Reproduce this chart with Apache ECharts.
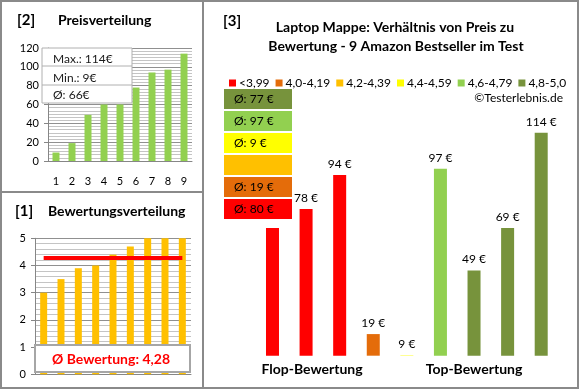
<!DOCTYPE html>
<html><head><meta charset="utf-8">
<script src="https://cdn.jsdelivr.net/npm/echarts@6/dist/echarts.min.js"></script>
<style>html,body{margin:0;padding:0;background:#fff}#c{width:580px;height:390px}</style>
</head><body><div id="c"></div>
<script>
// ---- data ----
const priceCats = ['1','2','3','4','5','6','7','8','9'];
const priceDist = [9, 19, 49, 60, 60, 78, 94, 97, 114];
const ratingDist = [3.0, 3.5, 3.9, 4.0, 4.4, 4.7, 5.0, 5.0, 5.0];
const ratingAvg = 4.28;
const statTexts = ['Max.: 114€', 'Min.: 9€', 'Ø: 66€'];
const groupNames = ['<3,99', '4,0-4,19', '4,2-4,39', '4,4-4,59', '4,6-4,79', '4,8-5,0'];
const groupColors = ['#FF0000', '#E46C0A', '#FFC000', '#FFFF00', '#92D050', '#77933C'];
const barPrices = [69, 78, 94, 19, 9, 97, 49, 69, 114];
const barGroups = [0, 0, 0, 1, 3, 4, 5, 5, 5];
const productCats = ['p1','p2','p3','p4','p5','p6','p7','p8','p9'];

const FONT = 'Lato, "Open Sans", sans-serif';
const chart = echarts.init(document.getElementById('c'));

// group series for right chart (stacked so each bar sits in its own slot)
const groupSeries = groupNames.map((name, g) => ({
  name: name, type: 'bar', xAxisIndex: 2, yAxisIndex: 2, stack: 'all',
  barWidth: 13, barMinHeight: 1,
  itemStyle: { color: groupColors[g] },
  label: { show: true, position: 'top', distance: 5, fontSize: 12, color: '#000', fontFamily: FONT,
           formatter: p => p.dataIndex === 0 ? '' : p.value + ' €' },
  data: barPrices.map((v, i) => barGroups[i] === g ? v : null)
}));

// averages per group for the Ø boxes
const groupAvg = groupNames.map((n, g) => {
  const vals = barPrices.filter((v, i) => barGroups[i] === g);
  return vals.length ? Math.round(vals.reduce((a, b) => a + b, 0) / vals.length) : null;
});

const graphics = [];
// frames
const frame = '#8a8a8a';
graphics.push({ type: 'rect', shape: { x: 1, y: 1, width: 577, height: 387 }, style: { fill: null, stroke: frame, lineWidth: 2 }, z: 50 });
graphics.push({ type: 'line', shape: { x1: 203, y1: 1, x2: 203, y2: 388 }, style: { stroke: frame, lineWidth: 2 }, z: 50 });
graphics.push({ type: 'line', shape: { x1: 1, y1: 192, x2: 203, y2: 192 }, style: { stroke: frame, lineWidth: 2 }, z: 50 });
// titles
const bold = (t, x, y, size, align) => ({ type: 'text', x: x, y: y, z: 60,
  style: { text: t, font: 'bold ' + size + 'px ' + FONT, fill: '#000', textAlign: align || 'left', textVerticalAlign: 'middle' } });
graphics.push(bold('[2]', 17, 20, 15));
graphics.push(bold('Preisverteilung', 58, 20, 14));
graphics.push(bold('[1]', 15, 211, 15));
graphics.push(bold('Bewertungsverteilung', 48, 211, 14));
graphics.push(bold('[3]', 223, 21, 15));
graphics.push(bold('Laptop Mappe: Verhältnis von Preis zu', 395, 27, 14, 'center'));
graphics.push(bold('Bewertung - 9 Amazon Bestseller im Test', 396, 46, 14, 'center'));
graphics.push(bold('Flop-Bewertung', 312, 369, 14, 'center'));
graphics.push(bold('Top-Bewertung', 474, 369, 14, 'center'));
graphics.push({ type: 'text', x: 563, y: 98, z: 60, style: { text: '©Testerlebnis.de', font: '12px ' + FONT, fill: '#000', textAlign: 'right', textVerticalAlign: 'middle' } });
// stats box (top-left)
graphics.push({ type: 'rect', shape: { x: 42, y: 48, width: 90, height: 55 }, style: { fill: '#fff', stroke: '#b0b0b0', lineWidth: 1 }, z: 60 });
graphics.push({ type: 'line', shape: { x1: 42, y1: 66, x2: 132, y2: 66 }, style: { stroke: '#b0b0b0', lineWidth: 1 }, z: 61 });
graphics.push({ type: 'line', shape: { x1: 42, y1: 85, x2: 132, y2: 85 }, style: { stroke: '#b0b0b0', lineWidth: 1 }, z: 61 });
[59, 78, 95].forEach((y, i) => graphics.push({ type: 'text', x: 53, y: y, z: 62,
  style: { text: statTexts[i], font: '12px ' + FONT, fill: '#1a1a1a', textVerticalAlign: 'middle' } }));
// rating average box (bottom-left)
graphics.push({ type: 'rect', shape: { x: 35, y: 345, width: 155, height: 27 }, style: { fill: '#fff', stroke: '#a6a6a6', lineWidth: 2 }, z: 60 });
graphics.push({ type: 'text', x: 111, y: 359, z: 61, style: { text: 'Ø Bewertung: ' + ratingAvg.toFixed(2).replace('.', ','), font: 'bold 14px ' + FONT, fill: '#FF0000', textAlign: 'center', textVerticalAlign: 'middle' } });
// Ø boxes (right), top = highest group
for (let k = 0; k < 6; k++) {
  const g = 5 - k;
  const y = 89 + k * 22;
  graphics.push({ type: 'rect', shape: { x: 224, y: y, width: 68, height: 20 }, style: { fill: groupColors[g] }, z: 60 });
  if (groupAvg[g] !== null) graphics.push({ type: 'text', x: 234, y: y + 10, z: 61,
    style: { text: 'Ø: ' + groupAvg[g] + ' €', font: '12px ' + FONT, fill: '#000', textVerticalAlign: 'middle' } });
}

const axisGray = '#868686';
chart.setOption({
  animation: false,
  textStyle: { fontFamily: FONT },
  legend: { left: 224, top: 72, itemWidth: 7, itemHeight: 7, itemGap: 6, icon: 'rect',
            textStyle: { fontSize: 12, color: '#000', fontFamily: FONT, padding: [0, 0, 0, -2] },
            data: groupNames, selectedMode: false },
  grid: [
    { left: 48, top: 48, width: 144, height: 113 },
    { left: 35, top: 238.3, width: 156, height: 136 },
    { left: 255.7, top: 120, width: 302.3, height: 235.7 }
  ],
  xAxis: [
    { type: 'category', gridIndex: 0, data: priceCats,
      axisLine: { lineStyle: { color: axisGray } }, axisTick: { show: false },
      axisLabel: { fontSize: 11, color: '#000', margin: 15 } },
    { type: 'category', gridIndex: 1, data: priceCats,
      axisLine: { lineStyle: { color: axisGray } }, axisTick: { show: false }, axisLabel: { show: false } },
    { type: 'category', gridIndex: 2, data: productCats, show: false }
  ],
  yAxis: [
    { type: 'value', gridIndex: 0, min: 0, max: 120, interval: 20,
      axisLine: { show: true, lineStyle: { color: axisGray } }, axisTick: { show: true, length: 4, lineStyle: { color: axisGray } },
      axisLabel: { fontSize: 11, color: '#000', margin: 9 },
      splitLine: { lineStyle: { color: '#909090' } },
      minorTick: { show: false, splitNumber: 6 }, minorSplitLine: { show: true, lineStyle: { color: '#c4c4c4' } } },
    { type: 'value', gridIndex: 1, min: 0, max: 5, interval: 1,
      axisLine: { show: true, lineStyle: { color: axisGray } }, axisTick: { show: true, length: 4, lineStyle: { color: axisGray } },
      axisLabel: { fontSize: 11, color: '#000', margin: 9 },
      splitLine: { lineStyle: { color: '#909090' } },
      minorTick: { show: false, splitNumber: 5 }, minorSplitLine: { show: true, lineStyle: { color: '#c4c4c4' } } },
    { type: 'value', gridIndex: 2, min: 8.8, max: 120, show: false, splitLine: { show: false } }
  ],
  series: [
    { type: 'bar', xAxisIndex: 0, yAxisIndex: 0, data: priceDist, barWidth: 7, itemStyle: { color: '#92D050' } },
    { type: 'bar', xAxisIndex: 1, yAxisIndex: 1, data: ratingDist, barWidth: 7, itemStyle: { color: '#FFC000' },
      markLine: { silent: true, symbol: 'none', label: { show: false },
        lineStyle: { color: '#FF0000', width: 4, type: 'solid' },
        data: [[{ coord: ['1', ratingAvg] }, { coord: ['9', ratingAvg] }]] } },
    ...groupSeries
  ],
  graphic: graphics
});
</script></body></html>
